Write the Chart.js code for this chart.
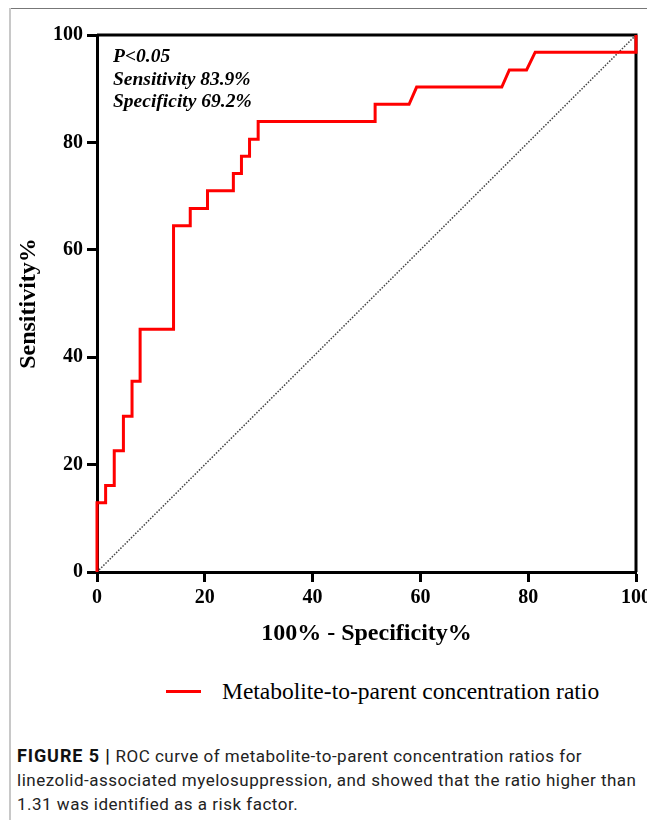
<!DOCTYPE html>
<html>
<head>
<meta charset="utf-8">
<script src="https://cdn.jsdelivr.net/npm/chart.js@4.4.1/dist/chart.umd.min.js"></script>
<style>
  html, body { margin: 0; padding: 0; background: #fff; }
  #wrap { position: relative; width: 647px; height: 820px; overflow: hidden; background: #fff; }
  #frameTop { position: absolute; left: 9px; top: 8px; width: 640px; height: 1px; background: #777; }
  #frameLeft { position: absolute; left: 9px; top: 8px; width: 2px; height: 820px; background: #c8c8c8; }
  #chart { position: absolute; left: 0; top: 0; }
  #annot { position: absolute; left: 113px; top: 45px; font-family: "Liberation Serif", "Times New Roman", serif;
           font-weight: bold; font-style: italic; font-size: 19.5px; line-height: 22.5px; color: #000; white-space: nowrap; }
  #legend { position: absolute; left: 166px; top: 676px; height: 30px; white-space: nowrap; }
  #legend .swatch { position: absolute; left: 0; top: 14px; width: 35px; height: 3px; background: #ff0000; }
  #legend .txt { position: absolute; left: 56px; top: 0; font-family: "Liberation Serif", "Times New Roman", serif;
                 font-size: 23.5px; line-height: 30px; color: #000; }
  #caption { position: absolute; left: 17px; top: 744px; font-family: Roboto, "Liberation Sans", sans-serif;
             font-size: 17px; line-height: 24px; color: #222; white-space: nowrap; letter-spacing: 0.5px; }
  #caption b { font-weight: 700; font-size: 18px; letter-spacing: 0.9px; color: #111; }
</style>
</head>
<body>
<div id="wrap">
  <div id="frameTop"></div>
  <div id="frameLeft"></div>
  <canvas id="chart" width="647" height="650"></canvas>
  <div id="annot">P&lt;0.05<br>Sensitivity 83.9%<br>Specificity 69.2%</div>
  <div id="legend"><div class="swatch"></div><div class="txt">Metabolite-to-parent concentration ratio</div></div>
  <div id="caption"><b>FIGURE 5 |</b> ROC curve of metabolite-to-parent concentration ratios for<br>linezolid-associated myelosuppression, and showed that the ratio higher than<br>1.31 was identified as a risk factor.</div>
</div>
<script>
// ROC curve points: 100% - Specificity% (x) and Sensitivity% (y)
const rocX = [0, 0, 1.6, 1.6, 3.2, 3.2, 4.9, 4.9, 6.5, 6.5, 8.0, 8.0, 14.2, 14.2, 17.3, 17.3, 20.5, 20.5, 25.3, 25.3, 26.8, 26.8, 28.3, 28.3, 29.9, 29.9, 51.6, 51.6, 57.9, 59.3, 75.1, 76.5, 79.7, 81.3, 100, 100];
const rocY = [0, 12.9, 12.9, 16.1, 16.1, 22.6, 22.6, 29.0, 29.0, 35.5, 35.5, 45.2, 45.2, 64.5, 64.5, 67.7, 67.7, 71.0, 71.0, 74.2, 74.2, 77.4, 77.4, 80.6, 80.6, 83.9, 83.9, 87.1, 87.1, 90.3, 90.3, 93.5, 93.5, 96.8, 96.8, 100];
// Reference (chance) line
const refX = [0, 100];
const refY = [0, 100];
// Axis ticks
const xTickValues = [0, 20, 40, 60, 80, 100];
const yTickValues = [0, 20, 40, 60, 80, 100];
const seriesName = 'Metabolite-to-parent concentration ratio';
const xTitle = '100% - Specificity%';
const yTitle = 'Sensitivity%';

const rocData = rocX.map((x, i) => ({ x: x, y: rocY[i] }));
const refData = refX.map((x, i) => ({ x: x, y: refY[i] }));

const serif = '"Liberation Serif", "Times New Roman", serif';

const framePlugin = {
  id: 'frameBox',
  beforeDatasetsDraw(chart) {
    const { ctx, chartArea: a } = chart;
    ctx.save();
    ctx.strokeStyle = '#000';
    ctx.lineWidth = 3;
    ctx.beginPath();
    ctx.moveTo(a.left, a.top);
    ctx.lineTo(a.right, a.top);
    ctx.lineTo(a.right, a.bottom);
    ctx.stroke();
    ctx.restore();
  }
};

new Chart(document.getElementById('chart'), {
  type: 'line',
  data: {
    datasets: [
      {
        label: 'Reference',
        data: refData,
        borderColor: '#444',
        borderWidth: 1.5,
        borderDash: [1.5, 1.5],
        pointRadius: 0,
        fill: false,
        tension: 0,
        order: 2
      },
      {
        label: seriesName,
        data: rocData,
        borderColor: '#ff0000',
        borderWidth: 3,
        pointRadius: 0,
        fill: false,
        tension: 0,
        clip: false,
        borderJoinStyle: 'miter',
        order: 1
      }
    ]
  },
  options: {
    responsive: false,
    animation: false,
    devicePixelRatio: 1,
    layout: { padding: { left: 0, right: 11, top: 35, bottom: 0 } },
    plugins: { legend: { display: false }, tooltip: { enabled: false } },
    scales: {
      x: {
        type: 'linear',
        min: 0, max: 100,
        afterBuildTicks(scale) { scale.ticks = xTickValues.map(v => ({ value: v })); },
        afterFit(scale) { scale.height = 78; scale.paddingLeft = 0; scale.paddingRight = 0; },
        ticks: {
          color: '#000',
          font: { family: serif, size: 20, weight: 'bold' },
          padding: 4,
          maxRotation: 0,
          autoSkip: false,
          callback: v => String(v)
        },
        grid: { drawOnChartArea: false, drawTicks: true, tickLength: 10, tickWidth: 3, tickColor: '#000' },
        border: { display: true, color: '#000', width: 3 },
        title: {
          display: true, text: xTitle, color: '#000',
          font: { family: serif, size: 24, weight: 'bold' },
          padding: { top: 0, bottom: 2 }
        }
      },
      y: {
        type: 'linear',
        min: 0, max: 100,
        afterBuildTicks(scale) { scale.ticks = yTickValues.map(v => ({ value: v })); },
        afterFit(scale) { scale.width = 97; scale.paddingTop = 0; scale.paddingBottom = 0; },
        ticks: {
          color: '#000',
          font: { family: serif, size: 20, weight: 'bold' },
          padding: 4,
          autoSkip: false,
          callback: v => String(v)
        },
        grid: { drawOnChartArea: false, drawTicks: true, tickLength: 10, tickWidth: 3, tickColor: '#000' },
        border: { display: true, color: '#000', width: 3 },
        title: {
          display: true, text: yTitle, color: '#000',
          font: { family: serif, size: 24, weight: 'bold' },
          padding: { top: 14, bottom: 0 }
        }
      }
    }
  },
  plugins: [framePlugin]
});
</script>
</body>
</html>
